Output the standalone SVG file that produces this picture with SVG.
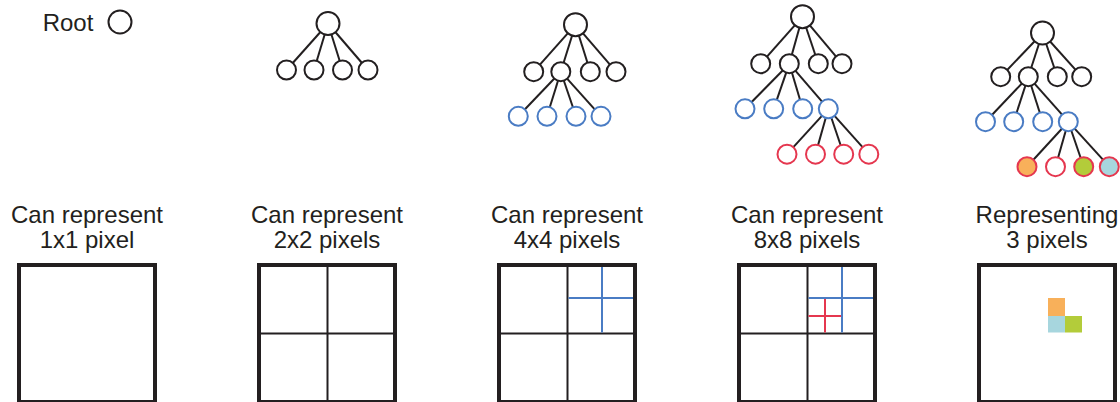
<svg xmlns="http://www.w3.org/2000/svg" width="1120" height="402" viewBox="0 0 1120 402">
<style>
.t{font-family:"Liberation Sans",Arial,sans-serif;font-size:24px;fill:#231f20;text-anchor:middle}
.e{stroke:#231f20;stroke-width:2;fill:none}
.k{stroke:#231f20;stroke-width:2;fill:#fff}
.b{stroke:#4a7cc4;stroke-width:2;fill:#fff}
.r{stroke:#e5374f;stroke-width:2;fill:#fff}
.box{stroke:#231f20;stroke-width:4;fill:#fff}
.in{stroke:#231f20;stroke-width:2}
.bl{stroke:#4a7cc4;stroke-width:2}
.rl{stroke:#e5374f;stroke-width:2}
</style>
<rect width="1120" height="402" fill="#fff"/>

<g id="connectors" class="e">
<!-- tree 2 -->
<line x1="328" y1="23.5" x2="286.5" y2="70"/><line x1="328" y1="23.5" x2="314" y2="70"/><line x1="328" y1="23.5" x2="342.5" y2="70"/><line x1="328" y1="23.5" x2="368" y2="70"/>
<!-- tree 3 -->
<line x1="575.5" y1="24.7" x2="533.7" y2="71.7"/><line x1="575.5" y1="24.7" x2="560.8" y2="71.7"/><line x1="575.5" y1="24.7" x2="590.3" y2="71.7"/><line x1="575.5" y1="24.7" x2="616" y2="71.7"/>
<line x1="560.8" y1="71.7" x2="518.3" y2="116.3"/><line x1="560.8" y1="71.7" x2="547" y2="116.3"/><line x1="560.8" y1="71.7" x2="576" y2="116.3"/><line x1="560.8" y1="71.7" x2="601" y2="116.3"/>
<!-- tree 4 -->
<line x1="802.5" y1="16.7" x2="760.7" y2="63.7"/><line x1="802.5" y1="16.7" x2="789.3" y2="63.7"/><line x1="802.5" y1="16.7" x2="818.3" y2="63.7"/><line x1="802.5" y1="16.7" x2="842" y2="63.7"/>
<line x1="789.3" y1="63.7" x2="745" y2="108.8"/><line x1="789.3" y1="63.7" x2="773.7" y2="108.8"/><line x1="789.3" y1="63.7" x2="802.7" y2="108.8"/><line x1="789.3" y1="63.7" x2="828.3" y2="108.8"/>
<line x1="828.3" y1="108.8" x2="787" y2="154.2"/><line x1="828.3" y1="108.8" x2="815.5" y2="154.2"/><line x1="828.3" y1="108.8" x2="843.7" y2="154.2"/><line x1="828.3" y1="108.8" x2="868.8" y2="154.2"/>
<!-- tree 5 -->
<line x1="1042.5" y1="33" x2="1000.7" y2="76.7"/><line x1="1042.5" y1="33" x2="1028.3" y2="76.7"/><line x1="1042.5" y1="33" x2="1057.3" y2="76.7"/><line x1="1042.5" y1="33" x2="1081.7" y2="76.7"/>
<line x1="1028.3" y1="76.7" x2="985.5" y2="121.7"/><line x1="1028.3" y1="76.7" x2="1013.7" y2="121.7"/><line x1="1028.3" y1="76.7" x2="1042.7" y2="121.7"/><line x1="1028.3" y1="76.7" x2="1068.3" y2="121.7"/>
<line x1="1068.3" y1="121.7" x2="1027" y2="166.7"/><line x1="1068.3" y1="121.7" x2="1055.5" y2="166.7"/><line x1="1068.3" y1="121.7" x2="1083.7" y2="166.7"/><line x1="1068.3" y1="121.7" x2="1109.3" y2="166.7"/>
</g>

<g id="root-legend">
<text class="t" x="68" y="31">Root</text>
<circle class="k" cx="120" cy="22" r="11.5"/>
</g>

<g id="tree2">
<circle class="k" cx="328" cy="23.5" r="11.5"/>
<circle class="k" cx="286.5" cy="70" r="9.5"/><circle class="k" cx="314" cy="70" r="9.5"/><circle class="k" cx="342.5" cy="70" r="9.5"/><circle class="k" cx="368" cy="70" r="9.5"/>
</g>

<g id="tree3">
<circle class="k" cx="575.5" cy="24.7" r="11.5"/>
<circle class="k" cx="533.7" cy="71.7" r="9.5"/><circle class="k" cx="560.8" cy="71.7" r="9.5"/><circle class="k" cx="590.3" cy="71.7" r="9.5"/><circle class="k" cx="616" cy="71.7" r="9.5"/>
<circle class="b" cx="518.3" cy="116.3" r="9.5"/><circle class="b" cx="547" cy="116.3" r="9.5"/><circle class="b" cx="576" cy="116.3" r="9.5"/><circle class="b" cx="601" cy="116.3" r="9.5"/>
</g>

<g id="tree4">
<circle class="k" cx="802.5" cy="16.7" r="11.5"/>
<circle class="k" cx="760.7" cy="63.7" r="9.5"/><circle class="k" cx="789.3" cy="63.7" r="9.5"/><circle class="k" cx="818.3" cy="63.7" r="9.5"/><circle class="k" cx="842" cy="63.7" r="9.5"/>
<circle class="b" cx="745" cy="108.8" r="9.5"/><circle class="b" cx="773.7" cy="108.8" r="9.5"/><circle class="b" cx="802.7" cy="108.8" r="9.5"/><circle class="b" cx="828.3" cy="108.8" r="9.5"/>
<circle class="r" cx="787" cy="154.2" r="9.5"/><circle class="r" cx="815.5" cy="154.2" r="9.5"/><circle class="r" cx="843.7" cy="154.2" r="9.5"/><circle class="r" cx="868.8" cy="154.2" r="9.5"/>
</g>

<g id="tree5">
<circle class="k" cx="1042.5" cy="33" r="11.5"/>
<circle class="k" cx="1000.7" cy="76.7" r="9.5"/><circle class="k" cx="1028.3" cy="76.7" r="9.5"/><circle class="k" cx="1057.3" cy="76.7" r="9.5"/><circle class="k" cx="1081.7" cy="76.7" r="9.5"/>
<circle class="b" cx="985.5" cy="121.7" r="9.5"/><circle class="b" cx="1013.7" cy="121.7" r="9.5"/><circle class="b" cx="1042.7" cy="121.7" r="9.5"/><circle class="b" cx="1068.3" cy="121.7" r="9.5"/>
<circle class="r" cx="1027" cy="166.7" r="9.5" style="fill:#f8b05a"/><circle class="r" cx="1055.5" cy="166.7" r="9.5"/><circle class="r" cx="1083.7" cy="166.7" r="9.5" style="fill:#b3cc3a"/><circle class="r" cx="1109.3" cy="166.7" r="9.5" style="fill:#a7d6de"/>
</g>

<g id="labels">
<text class="t" x="87" y="223">Can represent</text><text class="t" x="87" y="248">1x1 pixel</text>
<text class="t" x="327" y="223">Can represent</text><text class="t" x="327" y="248">2x2 pixels</text>
<text class="t" x="567" y="223">Can represent</text><text class="t" x="567" y="248">4x4 pixels</text>
<text class="t" x="807" y="223">Can represent</text><text class="t" x="807" y="248">8x8 pixels</text>
<text class="t" x="1047" y="223">Representing</text><text class="t" x="1047" y="248">3 pixels</text>
</g>

<g id="grid1">
<rect class="box" x="19" y="265" width="136" height="137"/>
</g>
<g id="grid2">
<rect class="box" x="259" y="265" width="136" height="137"/>
<line class="in" x1="327.5" y1="265" x2="327.5" y2="402"/><line class="in" x1="259" y1="333.5" x2="395" y2="333.5"/>
</g>
<g id="grid3">
<rect class="box" x="499" y="265" width="136" height="137"/>
<line class="in" x1="567.5" y1="265" x2="567.5" y2="402"/><line class="in" x1="499" y1="333.5" x2="635" y2="333.5"/>
<line class="bl" x1="602" y1="267" x2="602" y2="332.5"/><line class="bl" x1="568.5" y1="298" x2="633" y2="298"/>
</g>
<g id="grid4">
<rect class="box" x="739" y="265" width="136" height="137"/>
<line class="in" x1="807.5" y1="265" x2="807.5" y2="402"/><line class="in" x1="739" y1="333.5" x2="875" y2="333.5"/>
<line class="bl" x1="842" y1="267" x2="842" y2="332.5"/><line class="bl" x1="808.5" y1="298" x2="873" y2="298"/>
<line class="rl" x1="825" y1="299" x2="825" y2="332.5"/><line class="rl" x1="808.5" y1="316" x2="841" y2="316"/>
</g>
<g id="grid5">
<rect class="box" x="979" y="265" width="136" height="137"/>
<rect x="1048" y="298" width="17" height="18" fill="#f8b05a"/>
<rect x="1048" y="316" width="17" height="16.5" fill="#a7d6de"/>
<rect x="1065" y="316" width="17" height="16.5" fill="#b3cc3a"/>
</g>
</svg>
